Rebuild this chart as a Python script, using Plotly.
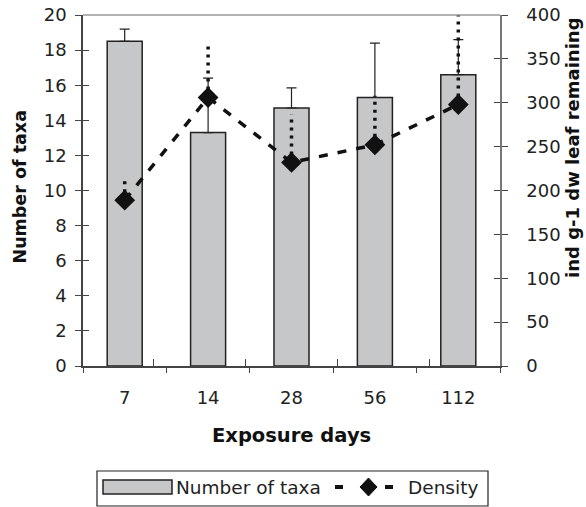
import plotly.graph_objects as go

days = ["7", "14", "28", "56", "112"]
taxa = [18.5, 13.3, 14.7, 15.3, 16.6]
taxa_err = [0.7, 3.1, 1.15, 3.1, 2.0]
density = [189, 306, 232, 252, 298]
density_err = [24, 63, 55, 56, 102]

FONT = "DejaVu Sans, sans-serif"
AX = "#444444"
TXT = "#222222"
BARFILL = "#c6c7c9"

W, H = 586, 507
L, R, T, B = 83, 86, 15, 141
PW, PH = W - L - R, H - T - B


def px(x):
    return (x - L) / PW


def py(y):
    return (H - B - y) / PH


fig = go.Figure()

fig.add_trace(go.Bar(
    x=days, y=taxa, name="Number of taxa",
    marker=dict(color=BARFILL, line=dict(color=TXT, width=1.5)),
    error_y=dict(type="data", symmetric=False, array=taxa_err, arrayminus=[0]*5,
                 color=TXT, thickness=1.2, width=5),
    yaxis="y", xaxis="x", showlegend=False,
))

# dotted error bars for density (upper only)
ex, ey = [], []
for d, v, e in zip(days, density, density_err):
    ex += [d, d, None]
    ey += [v, v + e, None]
fig.add_trace(go.Scatter(
    x=ex, y=ey, mode="lines", yaxis="y2", xaxis="x",
    line=dict(color="#111111", width=3.5, dash="3px,5px"),
    showlegend=False, hoverinfo="skip",
))

fig.add_trace(go.Scatter(
    x=days, y=density, name="Density", mode="lines+markers",
    yaxis="y2", xaxis="x", showlegend=False,
    line=dict(color="#111111", width=3.5, dash="9px,10px"),
    marker=dict(symbol="diamond", size=16, color="#111111"),
))

# invisible traces for overlay axes (inner half of crossing ticks)
fig.add_trace(go.Scatter(x=days, y=[None]*5, xaxis="x2", yaxis="y3",
                         showlegend=False, hoverinfo="skip"))
fig.add_trace(go.Scatter(x=days, y=[None]*5, xaxis="x2", yaxis="y4",
                         showlegend=False, hoverinfo="skip"))

tickfont = dict(family=FONT, size=18, color=TXT)


def tfont(size):
    return dict(family=FONT, size=size, color="#111111", weight="bold")


# legend drawn manually (wide bar swatch like the original)
shapes = [
    dict(type="line", xref="paper", yref="paper", x0=0, x1=1, y0=1, y1=1,
         line=dict(color="#999999", width=1.5)),
    dict(type="rect", xref="paper", yref="paper",
         x0=px(97), x1=px(488), y0=py(471), y1=py(506),
         line=dict(color=TXT, width=1.2), fillcolor="white"),
    dict(type="rect", xref="paper", yref="paper",
         x0=px(103), x1=px(172), y0=py(480), y1=py(494),
         line=dict(color=TXT, width=1.5), fillcolor=BARFILL),
    dict(type="line", xref="paper", yref="paper",
         x0=px(335), x1=px(343), y0=py(487), y1=py(487),
         line=dict(color="#111111", width=4)),
    dict(type="line", xref="paper", yref="paper",
         x0=px(385), x1=px(393), y0=py(487), y1=py(487),
         line=dict(color="#111111", width=4)),
    dict(type="path", xref="paper", yref="paper",
         path=(f"M {px(360)} {py(487)} L {px(368.5)} {py(478)} "
               f"L {px(377)} {py(487)} L {px(368.5)} {py(496)} Z"),
         line=dict(color="#111111", width=1), fillcolor="#111111"),
]

annotations = [
    dict(text="Number of taxa", xref="paper", yref="paper",
         x=px(174), y=py(487.5), xanchor="left", yanchor="middle",
         showarrow=False, font=dict(family=FONT, size=18.5, color=TXT)),
    dict(text="Density", xref="paper", yref="paper",
         x=px(406), y=py(487.5), xanchor="left", yanchor="middle",
         showarrow=False, font=dict(family=FONT, size=18.5, color=TXT)),
    dict(text="Number of taxa", xref="paper", yref="paper",
         x=px(19.5), y=py(187), xanchor="center", yanchor="middle",
         textangle=-90, showarrow=False, font=tfont(17.5)),
    dict(text="ind g-1 dw leaf remaining", xref="paper", yref="paper",
         x=px(573), y=py(148), xanchor="center", yanchor="middle",
         textangle=-90, showarrow=False, font=tfont(18)),
    dict(text="Exposure days", xref="paper", yref="paper",
         x=px(291.5), y=py(435), xanchor="center", yanchor="middle",
         showarrow=False, font=tfont(19.5)),
]

fig.update_layout(
    width=W, height=H,
    margin=dict(l=L, r=R, t=T, b=B, autoexpand=False),
    plot_bgcolor="white", paper_bgcolor="white",
    bargap=0.58,
    font=dict(family=FONT, size=18, color=TXT),
    showlegend=False,
    xaxis=dict(
        type="category", categoryorder="array", categoryarray=days,
        showline=True, linecolor=AX, linewidth=1.5,
        ticks="outside", ticklen=5, tickcolor=AX, tickwidth=1,
        tickson="boundaries", showgrid=False, zeroline=False,
        tickfont=tickfont, ticklabelstandoff=15,
    ),
    xaxis2=dict(
        type="category", categoryorder="array", categoryarray=days,
        overlaying="x", anchor="y", side="bottom",
        ticks="inside", ticklen=7, tickcolor=AX, tickwidth=1,
        tickson="boundaries", showticklabels=False, showgrid=False,
        showline=False, zeroline=False,
    ),
    yaxis=dict(
        range=[0, 20], dtick=2,
        showline=True, linecolor=AX, linewidth=1.5,
        ticks="outside", ticklen=6, tickcolor=AX, tickwidth=1,
        showgrid=False, zeroline=False, tickfont=tickfont, ticklabelstandoff=5,
    ),
    yaxis2=dict(
        range=[0, 400], dtick=50, overlaying="y", side="right", anchor="x",
        showline=True, linecolor="#777777", linewidth=1.5,
        ticks="outside", ticklen=6, tickcolor=AX, tickwidth=1,
        showgrid=False, zeroline=False, tickfont=tickfont, ticklabelstandoff=15,
    ),
    yaxis3=dict(
        range=[0, 20], dtick=2, overlaying="y", side="left", anchor="x",
        ticks="inside", ticklen=6, tickcolor=AX, tickwidth=1,
        showticklabels=False, showgrid=False, zeroline=False, showline=False,
    ),
    yaxis4=dict(
        range=[0, 400], dtick=50, overlaying="y", side="right", anchor="x",
        ticks="inside", ticklen=6, tickcolor=AX, tickwidth=1,
        showticklabels=False, showgrid=False, zeroline=False, showline=False,
    ),
    shapes=shapes,
    annotations=annotations,
)

fig.write_html("out.html")
